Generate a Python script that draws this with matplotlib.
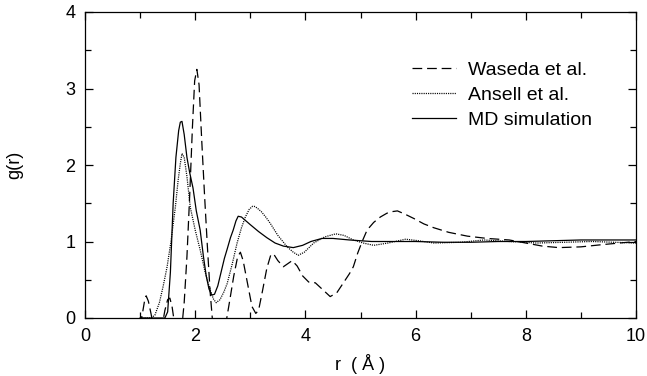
import matplotlib
matplotlib.use("Agg")
import matplotlib.pyplot as plt
from matplotlib.ticker import MultipleLocator

plt.rcParams['font.family'] = ['Liberation Sans', 'DejaVu Sans']
plt.rcParams['lines.scale_dashes'] = False

# Waseda et al. (dashed)
r_waseda = [1.0, 1.04, 1.08, 1.11, 1.15, 1.2, 1.25, 1.32, 1.4, 1.45, 1.5, 1.54, 1.58, 1.62, 1.7,
            1.76, 1.8, 1.85, 1.9, 1.95, 1.99, 2.03, 2.07, 2.12, 2.17, 2.22, 2.27, 2.31, 2.38, 2.46,
            2.55, 2.62, 2.7, 2.77, 2.82, 2.87, 2.95, 3.03, 3.1, 3.15, 3.22, 3.3, 3.37, 3.42, 3.5,
            3.6, 3.68, 3.76, 3.85, 3.95, 4.06, 4.18, 4.3, 4.45, 4.57, 4.69, 4.8, 4.87, 4.95, 5.03,
            5.12, 5.24, 5.36, 5.48, 5.57, 5.67, 5.8, 5.97, 6.15, 6.33, 6.6, 6.94, 7.3, 7.7, 8.0,
            8.3, 8.6, 9.0, 9.4, 9.7, 10.0]
g_waseda = [-0.1, 0.05, 0.22, 0.29, 0.22, 0.05, -0.15, -0.3, -0.1, 0.1, 0.24, 0.26, 0.15, -0.05, -0.3,
            -0.1, 0.2, 0.8, 1.6, 2.5, 3.1, 3.25, 3.05, 2.3, 1.6, 0.95, 0.35, 0.0, -0.25, -0.3,
            -0.1, 0.2, 0.55, 0.8, 0.86, 0.75, 0.45, 0.15, 0.06, 0.1, 0.35, 0.65, 0.82, 0.84, 0.75,
            0.67, 0.71, 0.75, 0.68, 0.55, 0.47, 0.46, 0.38, 0.28, 0.33, 0.46, 0.58, 0.67, 0.85, 1.0,
            1.15, 1.25, 1.32, 1.37, 1.39, 1.40, 1.36, 1.3, 1.23, 1.18, 1.12, 1.07, 1.04, 1.02, 0.98,
            0.94, 0.92, 0.93, 0.96, 0.98, 1.0]

# Ansell et al. (dotted)
r_ansell = [1.0, 1.2, 1.27, 1.35, 1.42, 1.49, 1.56, 1.64, 1.69, 1.73, 1.76, 1.8, 1.85, 1.91, 2.0,
            2.09, 2.18, 2.27, 2.33, 2.38, 2.45, 2.52, 2.58, 2.67, 2.76, 2.84, 2.91, 2.98, 3.04, 3.07,
            3.12, 3.2, 3.28, 3.36, 3.5, 3.67, 3.78, 3.87, 3.98, 4.15, 4.35, 4.55, 4.7, 4.87, 5.05,
            5.24, 5.5, 5.82, 6.05, 6.33, 6.82, 7.24, 7.7, 8.2, 8.7, 9.2, 9.6, 10.0]
g_ansell = [0.0, 0.0, 0.04, 0.2, 0.42, 0.67, 1.0, 1.45, 1.8, 2.02, 2.15, 2.1, 1.85, 1.45, 1.15,
            0.89, 0.6, 0.37, 0.25, 0.2, 0.24, 0.34, 0.45, 0.7, 0.98, 1.18, 1.32, 1.42, 1.46, 1.46,
            1.44, 1.39, 1.32, 1.24, 1.08, 0.93, 0.86, 0.82, 0.86, 0.98, 1.06, 1.1, 1.08, 1.02, 0.98,
            0.95, 0.98, 1.03, 1.01, 0.98, 0.99, 1.02, 1.0, 0.98, 0.99, 1.0, 0.99, 0.98]

# MD simulation (solid)
r_md = [1.0, 1.45, 1.5, 1.55, 1.6, 1.65, 1.7, 1.73, 1.76, 1.8, 1.85, 1.9, 1.96, 2.02, 2.09,
        2.15, 2.2, 2.25, 2.3, 2.35, 2.41, 2.47, 2.53, 2.58, 2.64, 2.69, 2.74, 2.78, 2.84, 2.92,
        3.0, 3.15, 3.3, 3.45, 3.6, 3.78, 3.95, 4.1, 4.3, 4.5, 4.8, 5.2, 5.6, 6.0, 6.5,
        7.0, 7.5, 8.0, 8.5, 9.0, 9.5, 10.0]
g_md = [0.0, 0.0, 0.08, 0.6, 1.5, 2.1, 2.45, 2.56, 2.57, 2.4, 2.1, 1.9, 1.7, 1.4, 1.15,
        0.8, 0.55, 0.38, 0.3, 0.31, 0.42, 0.6, 0.78, 0.9, 1.05, 1.15, 1.27, 1.33, 1.32, 1.27,
        1.22, 1.13, 1.05, 0.98, 0.94, 0.92, 0.95, 1.0, 1.04, 1.04, 1.02, 1.0, 1.0, 1.0, 0.99,
        0.99, 1.0, 1.0, 1.01, 1.02, 1.02, 1.02]

labels = ["Waseda et al.", "Ansell et al.", "MD simulation"]
x_ticks = [0, 2, 4, 6, 8, 10]
y_ticks = [0, 1, 2, 3, 4]

fig = plt.figure(figsize=(6.47, 3.76), dpi=100)
ax = fig.add_axes([85/647, 1-318/376, (636-85)/647, (318-12)/376])

lw = 0.9
ax.plot(r_waseda, g_waseda, color='black', lw=lw, dashes=(7, 3.5), label=labels[0])
ax.plot(r_ansell, g_ansell, color='black', lw=lw, dashes=(0.8, 0.8), label=labels[1])
ax.plot(r_md, g_md, color='black', lw=lw, label=labels[2])

ax.set_xlim(0, 10)
ax.set_ylim(0, 4)
ax.set_xticks(x_ticks)
ax.set_yticks(y_ticks)
ax.xaxis.set_minor_locator(MultipleLocator(1))
ax.yaxis.set_minor_locator(MultipleLocator(0.5))
ax.tick_params(which='both', direction='in', top=True, right=True, width=0.9, labelsize=13, pad=7)
ax.tick_params(which='major', length=6)
ax.tick_params(which='minor', length=4)
for s in ax.spines.values():
    s.set_linewidth(0.9)

ax.set_xlabel("r  ( Å )", fontsize=13)
ax.set_ylabel("g(r)", fontsize=13)
ax.xaxis.set_label_coords(0.5, -0.118)
ax.yaxis.set_label_coords(-0.112, 0.5)

leg = ax.legend(loc='center left', bbox_to_anchor=(0.593, 0.729), frameon=False, fontsize=14,
                handlelength=2.3, handletextpad=0.57, labelspacing=0.38, borderpad=0, borderaxespad=0)

fig.savefig("out.png", dpi=100)
